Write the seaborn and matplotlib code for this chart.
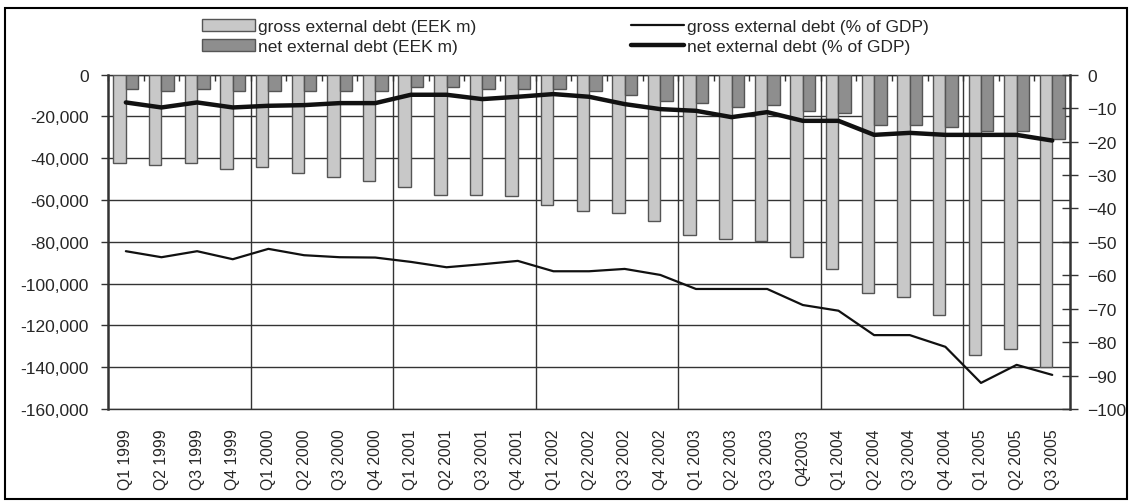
"""
Estonia external debt, quarterly 1999-2005: EEK m (bars) and % of GDP (lines)
"""

import numpy as np
import pandas as pd
import matplotlib
matplotlib.use('Agg')
import matplotlib.pyplot as plt
from matplotlib.patches import Patch, Rectangle
from matplotlib.lines import Line2D
from matplotlib.ticker import FuncFormatter, MultipleLocator
import seaborn as sns

# ---- data ----
quarters = ['Q1 1999', 'Q2 1999', 'Q3 1999', 'Q4 1999',
            'Q1 2000', 'Q2 2000', 'Q3 2000', 'Q4 2000',
            'Q1 2001', 'Q2 2001', 'Q3 2001', 'Q4 2001',
            'Q1 2002', 'Q2 2002', 'Q3 2002', 'Q4 2002',
            'Q1 2003', 'Q2 2003', 'Q3 2003', 'Q42003',
            'Q1 2004', 'Q2 2004', 'Q3 2004', 'Q4 2004',
            'Q1 2005', 'Q2 2005', 'Q3 2005']
years = [q[-4:] for q in quarters]

gross_eek = [-42300, -43200, -42300, -45100, -44200, -47000, -49000, -51000,
             -53700, -57600, -57600, -58200, -62400, -65400, -66300, -70200,
             -76700, -78800, -79700, -87400, -93100, -104500, -106400, -115100,
             -134100, -131300, -139700]
net_eek = [-6800, -8000, -6800, -8000, -8000, -8000, -8000, -8000,
           -5900, -5900, -6800, -6800, -6800, -8000, -9700, -12700,
           -13500, -15600, -14500, -17500, -18300, -24200, -24200, -25200,
           -27000, -27000, -30800]
gross_pct = [-52.8, -54.6, -52.8, -55.2, -52.1, -54.0, -54.6, -54.7,
             -56.0, -57.6, -56.7, -55.7, -58.8, -58.8, -58.1, -59.9,
             -64.1, -64.1, -64.1, -68.9, -70.6, -77.9, -77.9, -81.4,
             -92.2, -86.8, -89.8]
net_pct = [-8.3, -9.8, -8.3, -9.8, -9.3, -9.1, -8.5, -8.5,
           -6.0, -6.0, -7.3, -6.6, -5.8, -6.6, -8.8, -10.3,
           -10.8, -12.7, -11.2, -13.8, -13.8, -18.0, -17.4, -18.0,
           -18.0, -18.0, -19.7]

gross_lbl = 'gross external debt (EEK m)'
net_lbl = 'net external debt (EEK m)'
gross_pct_lbl = 'gross external debt (% of GDP)'
net_pct_lbl = 'net external debt (% of GDP)'

light_grey = '#c8c8c8'
dark_grey = '#8e8e8e'
ink = '#333333'

sns.set_theme(style='white')
plt.rcParams['font.family'] = ['Liberation Sans', 'DejaVu Sans']
plt.rcParams['font.size'] = 12.5

bars = pd.DataFrame({
    'quarter': quarters * 2,
    'value': gross_eek + net_eek,
    'series': [gross_lbl] * len(quarters) + [net_lbl] * len(quarters),
})
lines = pd.DataFrame({
    'pos': np.arange(len(quarters)),
    'gross': gross_pct,
    'net': net_pct,
})

fig = plt.figure(figsize=(11.29, 5.02), dpi=100)
ax = fig.add_axes([0.0957, 0.1833, 0.8521, 0.6659])

sns.barplot(data=bars, x='quarter', y='value', hue='series', order=quarters,
            palette=[light_grey, dark_grey], width=0.7, edgecolor='#555555',
            linewidth=1, legend=False, ax=ax, zorder=3)

ax.set_xlim(-0.5, len(quarters) - 0.5)
ax.set_ylim(-160000, 0)
ax.yaxis.set_major_locator(MultipleLocator(20000))
ax.yaxis.set_major_formatter(FuncFormatter(lambda v, p: f'{v:,.0f}'))
ax.set_xlabel('')
ax.set_ylabel('')
ax.grid(axis='y', color=ink, linewidth=1, zorder=0)
ax.set_axisbelow(True)

# vertical lines at year breaks
for i in range(1, len(years)):
    if years[i] != years[i - 1]:
        ax.axvline(i - 0.5, color=ink, linewidth=1, zorder=1)

ax.set_xticks(range(len(quarters)))
ax.set_xticklabels(quarters, rotation=90)
ax.tick_params(axis='x', length=0, pad=14, labelsize=11.3)
ax.set_xticks(np.arange(len(quarters) + 1) - 0.5, minor=True)
ax.tick_params(axis='x', which='minor', top=True, bottom=False,
               direction='in', length=4, color=ink)
ax.tick_params(axis='y', left=True, direction='out', length=5, width=1,
               color=ink, pad=9, labelsize=12.5)

for side in ['left', 'right', 'top', 'bottom']:
    ax.spines[side].set_color(ink)
ax.spines['left'].set_linewidth(1.8)
ax.spines['right'].set_linewidth(1.8)
ax.spines['top'].set_linewidth(1)
ax.spines['bottom'].set_linewidth(1)

ax2 = ax.twinx()
sns.lineplot(data=lines, x='pos', y='gross', color='#111111', linewidth=1.6,
             ax=ax2)
sns.lineplot(data=lines, x='pos', y='net', color='#111111', linewidth=3.2,
             ax=ax2)
ax2.set_ylim(-100, 0)
ax2.yaxis.set_major_locator(MultipleLocator(10))
ax2.set_ylabel('')
ax2.set_xlabel('')
ax2.grid(False)
ax2.tick_params(axis='y', right=True, direction='inout', length=12, width=1,
                color=ink, pad=6.5, labelsize=12.5)
for side in ['left', 'right', 'top', 'bottom']:
    ax2.spines[side].set_visible(False)

handles = [
    Patch(facecolor=light_grey, edgecolor='#555555', label=gross_lbl),
    Patch(facecolor=dark_grey, edgecolor='#555555', label=net_lbl),
    Line2D([], [], color='#111111', linewidth=1.6, label=gross_pct_lbl),
    Line2D([], [], color='#111111', linewidth=3.2, label=net_pct_lbl),
]
fig.legend(handles=handles, ncol=2, loc='upper left',
           bbox_to_anchor=(0.179, 0.96), frameon=False, fontsize=12.5,
           handlelength=3.05, handleheight=0.68, handletextpad=0.18,
           labelspacing=0.27, columnspacing=8.9, borderpad=0,
           borderaxespad=0)

# outer frame
fig.patches.append(Rectangle((0.0044, 0.004), 0.9938, 0.979, fill=False,
                             edgecolor='black', linewidth=1.5,
                             transform=fig.transFigure))

plt.savefig('out.png', dpi=100)
